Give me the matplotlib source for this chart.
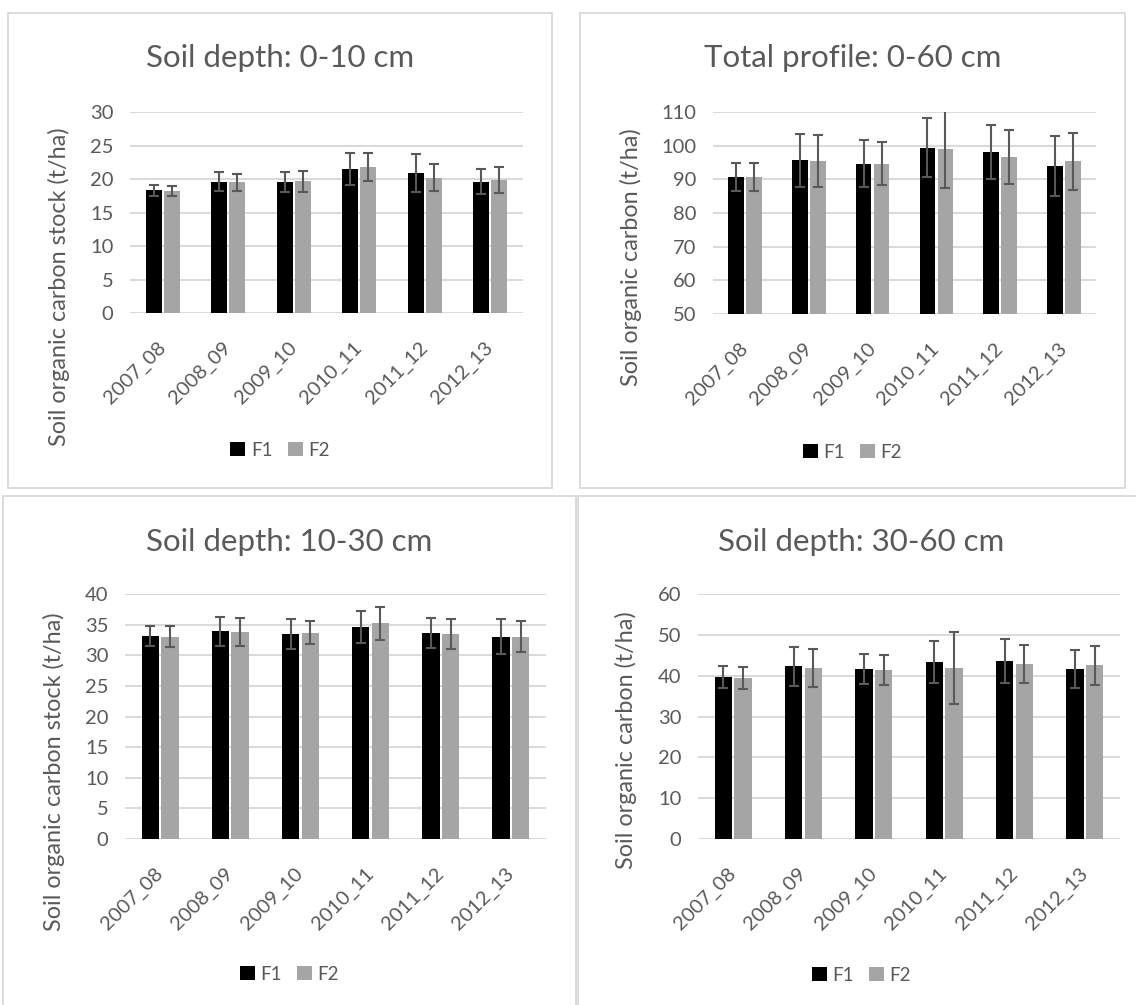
import numpy as np
import matplotlib.pyplot as plt
from matplotlib.patches import Rectangle

plt.rcParams['font.family'] = ['Lato', 'DejaVu Sans']

W, H = 1136, 1005
TXT = '#595959'
GRID = '#d9d9d9'

seasons = ['2007_08', '2008_09', '2009_10', '2010_11', '2011_12', '2012_13']
series = ['F1', 'F2']
colors = ['#000000', '#a5a5a5']

# soil depth 0-10 cm
d0_10_f1 = [18.3, 19.6, 19.6, 21.5, 20.9, 19.6]
d0_10_f2 = [18.2, 19.5, 19.65, 21.8, 20.2, 19.85]
d0_10_f1_err = [0.8, 1.4, 1.5, 2.35, 2.9, 1.9]
d0_10_f2_err = [0.8, 1.3, 1.55, 2.1, 2.05, 2.0]

# total profile 0-60 cm
tot_f1 = [90.8, 95.6, 94.6, 99.4, 98.1, 93.9]
tot_f2 = [90.8, 95.4, 94.6, 99.0, 96.6, 95.3]
tot_f1_err = [4.2, 8.0, 7.0, 8.85, 8.1, 8.85]
tot_f2_err = [4.2, 7.7, 6.35, 11.7, 7.95, 8.6]

# soil depth 10-30 cm
d10_30_f1 = [33.15, 33.9, 33.5, 34.6, 33.6, 33.0]
d10_30_f2 = [33.05, 33.85, 33.7, 35.2, 33.5, 33.05]
d10_30_f1_err = [1.7, 2.4, 2.4, 2.6, 2.45, 2.85]
d10_30_f2_err = [1.7, 2.3, 1.9, 2.65, 2.45, 2.6]

# soil depth 30-60 cm
d30_60_f1 = [39.6, 42.3, 41.7, 43.4, 43.7, 41.7]
d30_60_f2 = [39.5, 41.9, 41.35, 41.9, 42.9, 42.5]
d30_60_f1_err = [2.7, 4.8, 3.7, 5.2, 5.4, 4.7]
d30_60_f2_err = [2.7, 4.6, 3.6, 8.85, 4.6, 4.85]

fig = plt.figure(figsize=(W / 100, H / 100), dpi=100)


def px_rect(x0, y0, x1, y1):
    return [x0 / W, 1 - y1 / H, (x1 - x0) / W, (y1 - y0) / H]


def panel(border, plot, title, title_y, ylabel, ylab_xy, leg_y, vals, errs, ylim, step):
    bx0, by0, bx1, by1 = border
    fig.patches.append(Rectangle((bx0 / W, 1 - by1 / H), (bx1 - bx0) / W, (by1 - by0) / H,
                                 transform=fig.transFigure, fill=False, ec=GRID, lw=1.3))
    cx = (bx0 + bx1) / 2
    ax = fig.add_axes(px_rect(*plot))
    x = np.arange(len(seasons))
    handles = []
    for i, (v, e) in enumerate(zip(vals, errs)):
        off = -0.14 if i == 0 else 0.14
        bars = ax.bar(x + off, np.array(v) - ylim[0], width=0.245, bottom=ylim[0],
                      color=colors[i], label=series[i], zorder=3)
        ax.errorbar(x + off, v, yerr=e, fmt='none', ecolor=TXT, elinewidth=1.5,
                    capsize=3.8, capthick=1.5, zorder=4)
        handles.append(bars)
    ax.set_xlim(-0.5, len(seasons) - 0.5)
    ax.set_ylim(*ylim)
    ax.set_yticks(np.arange(ylim[0], ylim[1] + 0.1, step))
    ax.grid(axis='y', color=GRID, lw=1.4, zorder=0)
    for s in ax.spines.values():
        s.set_visible(False)
    ax.tick_params(length=0, labelsize=14.5, colors=TXT)
    ax.tick_params(axis='y', pad=12)
    ax.set_xticks(x)
    ax.set_xticklabels(seasons, rotation=45, ha='right', va='center', rotation_mode='anchor')
    ax.tick_params(axis='x', pad=23)
    fig.text(cx / W, 1 - title_y / H, title, ha='center', va='center',
             fontsize=22.5, color=TXT)
    fig.text(ylab_xy[0] / W, 1 - ylab_xy[1] / H, ylabel, rotation=90, ha='center',
             va='center', fontsize=16.8, color=TXT)
    leg = fig.legend(handles=handles, loc='center', ncol=2, frameon=False,
                     bbox_to_anchor=(cx / W, 1 - leg_y / H), fontsize=13.5,
                     handlelength=0.8, handleheight=0.8, handletextpad=0.3,
                     columnspacing=0.8)
    for t in leg.get_texts():
        t.set_color(TXT)
    return ax


panel((8, 13, 552, 488), (130, 112, 523, 313), 'Soil depth: 0-10 cm', 58,
      'Soil organic carbon stock (t/ha)', (59, 287), 450,
      [d0_10_f1, d0_10_f2], [d0_10_f1_err, d0_10_f2_err], (0, 30), 5)
panel((580, 13, 1125, 488), (713, 112, 1096, 314), 'Total profile: 0-60 cm', 58,
      'Soil organic carbon (t/ha)', (631, 257), 452,
      [tot_f1, tot_f2], [tot_f1_err, tot_f2_err], (50, 110), 10)
panel((3, 496, 576, 1012), (125, 594, 546, 839), 'Soil depth: 10-30 cm', 542,
      'Soil organic carbon stock (t/ha)', (54, 772), 974,
      [d10_30_f1, d10_30_f2], [d10_30_f1_err, d10_30_f2_err], (0, 40), 5)
panel((578, 496, 1145, 1012), (698, 594, 1120, 839), 'Soil depth: 30-60 cm', 542,
      'Soil organic carbon (t/ha)', (626, 740), 975,
      [d30_60_f1, d30_60_f2], [d30_60_f1_err, d30_60_f2_err], (0, 60), 10)

fig.savefig('out.png', dpi=100)
